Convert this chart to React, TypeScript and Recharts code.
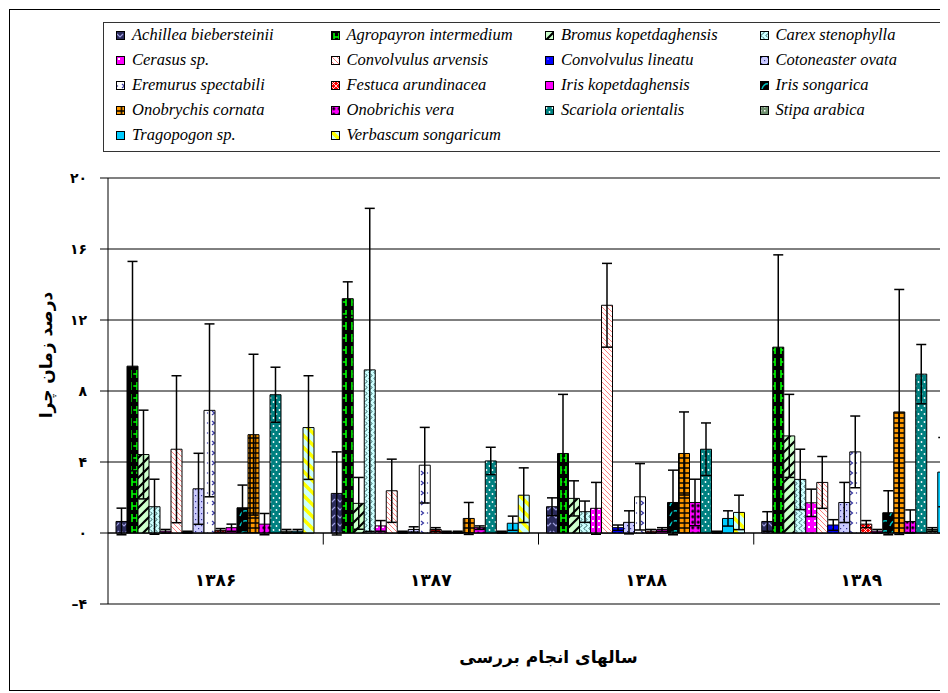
import React from 'react';
import { BarChart, Bar, XAxis, YAxis, CartesianGrid, ErrorBar, ReferenceLine, Legend } from 'recharts';

const years = ['۱۳۸۶', '۱۳۸۷', '۱۳۸۸', '۱۳۸۹'];

const species = [
  'Achillea biebersteinii', 'Agropayron intermedium', 'Bromus kopetdaghensis', 'Carex stenophylla',
  'Cerasus sp.', 'Convolvulus arvensis', 'Convolvulus lineatu', 'Cotoneaster ovata',
  'Eremurus spectabili', 'Festuca arundinacea', 'Iris kopetdaghensis', 'Iris songarica',
  'Onobrychis cornata', 'Onobrichis vera', 'Scariola orientalis', 'Stipa arabica',
  'Tragopogon sp.', 'Verbascum songaricum',
];

// mean values per species for 1386, 1387, 1388, 1389
const means = [
  [0.65, 2.23, 1.48, 0.65],
  [9.4, 13.2, 4.48, 10.47],
  [4.42, 1.67, 1.95, 5.47],
  [1.48, 9.19, 1.2, 3.02],
  [0.1, 0.4, 1.39, 1.7],
  [4.72, 2.38, 12.83, 2.85],
  [0.05, 0.05, 0.3, 0.45],
  [2.49, 0.2, 0.6, 1.72],
  [6.91, 3.82, 2.04, 4.57],
  [0.15, 0.2, 0.1, 0.5],
  [0.3, 0.05, 0.2, 0.1],
  [1.42, 0.05, 1.72, 1.14],
  [5.54, 0.82, 4.48, 6.82],
  [0.5, 0.3, 1.72, 0.65],
  [7.79, 4.06, 4.72, 8.95],
  [0.1, 0.05, 0.05, 0.2],
  [0.1, 0.55, 0.82, 3.43],
  [5.94, 2.13, 1.16, 4.16],
];

// standard errors per species
const errors = [
  [0.75, 2.34, 0.5, 0.55],
  [5.9, 0.95, 3.33, 5.2],
  [2.5, 1.46, 0.99, 2.34],
  [1.55, 9.1, 0.6, 1.7],
  [0.1, 0.3, 1.46, 0.77],
  [4.14, 1.78, 2.36, 1.46],
  [0.05, 0.05, 0.15, 0.3],
  [2.0, 0.15, 0.65, 1.13],
  [4.87, 2.13, 1.87, 2.02],
  [0.1, 0.1, 0.1, 0.2],
  [0.2, 0.05, 0.1, 0.1],
  [1.28, 0.05, 1.82, 1.24],
  [4.53, 0.9, 2.34, 6.9],
  [0.6, 0.1, 1.31, 0.65],
  [1.55, 0.77, 1.48, 1.67],
  [0.1, 0.05, 0.05, 0.1],
  [0.1, 0.4, 0.43, 1.95],
  [2.92, 1.54, 0.97, 2.09],
];

const yTicks = [-4, 0, 4, 8, 12, 16, 20];

const fills = species.map((_, i) => {
  if (i === 10) return '#ff00ff';
  if (i === 16) return '#00ccff';
  return `url(#pat${i})`;
});

const data = years.map((year, j) => {
  const row: any = { year };
  species.forEach((_, i) => {
    row['v' + i] = means[i][j];
    row['e' + i] = errors[i][j];
  });
  return row;
});

const toPersian = (n: number) => {
  const s = String(Math.abs(n)).replace(/\d/g, (d) => '۰۱۲۳۴۵۶۷۸۹'[+d]);
  return n < 0 ? '–' + s : s;
};

const persianFont = '"DejaVu Sans", sans-serif';

const Patterns = () => (
  <svg width={0} height={0} style={{ position: 'absolute', left: 0, top: 0 }}>
    <defs>
      <pattern id="pat0" width={8} height={8} patternUnits="userSpaceOnUse">
        <rect width={8} height={8} fill="#2b2b5c" />
        <path d="M1 3 L4 6 L7 3" stroke="#a0a0e0" strokeWidth={1.2} fill="none" />
      </pattern>
      <pattern id="pat1" width={11} height={12} patternUnits="userSpaceOnUse">
        <rect width={11} height={12} fill="#000" />
        <path d="M3 2 V10 M8 2 V10 M3 6 H8" stroke="#00ff00" strokeWidth={1.6} fill="none" />
      </pattern>
      <pattern id="pat2" width={10} height={10} patternUnits="userSpaceOnUse">
        <rect width={10} height={10} fill="#ccffcc" />
        <path d="M-2 2 L2 -2 M0 10 L10 0 M8 12 L12 8" stroke="#000" strokeWidth={2.2} />
      </pattern>
      <pattern id="pat3" width={5} height={6} patternUnits="userSpaceOnUse">
        <rect width={5} height={6} fill="#ccffff" />
        <path d="M2.5 0 C4.5 1 4.5 2 2.5 3 C0.5 4 0.5 5 2.5 6" stroke="#2f5f5f" strokeWidth={1} fill="none" />
      </pattern>
      <pattern id="pat4" width={6} height={6} patternUnits="userSpaceOnUse">
        <rect width={6} height={6} fill="#ff00ff" />
        <rect x={2} y={2} width={2} height={2} fill="#ffffff" />
      </pattern>
      <pattern id="pat5" width={5} height={5} patternUnits="userSpaceOnUse">
        <rect width={5} height={5} fill="#ffffff" />
        <path d="M0 0 L5 5 M-1 4 L1 6 M4 -1 L6 1" stroke="#ff8080" strokeWidth={1} />
      </pattern>
      <pattern id="pat6" width={6} height={6} patternUnits="userSpaceOnUse">
        <rect width={6} height={6} fill="#0000ff" />
        <circle cx={3} cy={3} r={0.6} fill="#ffffff" />
      </pattern>
      <pattern id="pat7" width={6} height={6} patternUnits="userSpaceOnUse">
        <rect width={6} height={6} fill="#ccccff" />
        <rect x={1} y={1} width={1.2} height={1.2} fill="#333399" />
        <rect x={4} y={4} width={1.2} height={1.2} fill="#333399" />
      </pattern>
      <pattern id="pat8" width={11} height={10} patternUnits="userSpaceOnUse">
        <rect width={11} height={10} fill="#ffffff" />
        <path d="M6 3 L8.5 5 L6 7" stroke="#3333a0" strokeWidth={1.2} fill="none" />
        <circle cx={1.5} cy={5} r={0.7} fill="#3333a0" />
      </pattern>
      <pattern id="pat9" width={5} height={5} patternUnits="userSpaceOnUse">
        <rect width={5} height={5} fill="#ff0000" />
        <path d="M0 0 L5 5 M5 0 L0 5" stroke="#ffffff" strokeWidth={0.8} />
      </pattern>
      <pattern id="pat11" width={10} height={10} patternUnits="userSpaceOnUse">
        <rect width={10} height={10} fill="#000" />
        <path d="M2 8 Q4 2 9 3" stroke="#00c0c0" strokeWidth={1.5} fill="none" />
      </pattern>
      <pattern id="pat12" width={5.5} height={5} patternUnits="userSpaceOnUse">
        <rect width={5.5} height={5} fill="#000" />
        <rect x={0.75} y={0.75} width={4} height={3.5} fill="#ff9900" />
      </pattern>
      <pattern id="pat13" width={5.5} height={5.5} patternUnits="userSpaceOnUse">
        <rect width={5.5} height={5.5} fill="#ff00ff" />
        <circle cx={2.75} cy={2.75} r={1.5} fill="#000" />
      </pattern>
      <pattern id="pat14" width={6} height={8} patternUnits="userSpaceOnUse">
        <rect width={6} height={8} fill="#008080" />
        <circle cx={1.5} cy={2} r={0.9} fill="#ffffff" />
        <circle cx={4.5} cy={6} r={0.9} fill="#ffffff" />
      </pattern>
      <pattern id="pat15" width={4} height={4} patternUnits="userSpaceOnUse">
        <rect width={4} height={4} fill="#6f906f" />
        <rect x={0} y={0} width={1.5} height={1.5} fill="#ffffff" />
      </pattern>
      <pattern id="pat17" width={12} height={12} patternUnits="userSpaceOnUse">
        <rect width={12} height={12} fill="#ccffff" />
        <path d="M0 0 L12 12 M-6 6 L6 18 M6 -6 L18 6" stroke="#ffff00" strokeWidth={3.5} />
      </pattern>
    </defs>
  </svg>
);

const renderLegend = () => (
  <div
    style={{
      width: 900,
      height: 130,
      boxSizing: 'border-box',
      border: '1px solid #333',
      background: '#fff',
      position: 'relative',
    }}
  >
    {species.map((s, i) => {
      const col = i % 4;
      const row = Math.floor(i / 4);
      return (
        <div
          key={s}
          style={{
            position: 'absolute',
            left: 12 + col * 214.5,
            top: 2 + row * 25,
            height: 20,
            display: 'flex',
            alignItems: 'center',
          }}
        >
          <svg width={9} height={9} style={{ marginRight: 7 }}>
            <rect x={0.5} y={0.5} width={8} height={8} fill={fills[i]} stroke="#000" />
          </svg>
          <span
            style={{
              fontFamily: '"Liberation Serif", "Times New Roman", serif',
              fontStyle: 'italic',
              fontSize: 16.5,
              whiteSpace: 'nowrap',
              color: '#000',
            }}
          >
            {s}
          </span>
        </div>
      );
    })}
  </div>
);

const XTick = (props: any) => {
  const { x, y, payload } = props;
  return (
    <text x={x} y={y - 18} textAnchor="middle" fontFamily={persianFont} fontWeight="bold" fontSize={17} fill="#000">
      {payload.value}
    </text>
  );
};

const YTick = (props: any) => {
  const { x, y, payload } = props;
  return (
    <text x={x} y={y + 5} textAnchor="end" fontFamily={persianFont} fontWeight="bold" fontSize={14} fill="#000">
      {toPersian(payload.value)}
    </text>
  );
};

const renderXLabel = (props: any) => {
  const vb = props.viewBox || { x: 100, y: 596, width: 859, height: 89 };
  return (
    <text
      x={vb.x + vb.width / 2 + 10}
      y={vb.y + 59}
      textAnchor="middle"
      fontFamily={persianFont}
      fontWeight="bold"
      fontSize={17}
      fill="#000"
    >
      سالهای انجام بررسی
    </text>
  );
};

const renderYLabel = () => (
  <text
    x={38}
    y={347}
    transform="rotate(-90 38 347)"
    textAnchor="middle"
    dominantBaseline="central"
    fontFamily={persianFont}
    fontWeight="bold"
    fontSize={17}
    fill="#000"
  >
    درصد زمان چرا
  </text>
);

export default function App() {
  return (
    <div style={{ position: 'relative', width: 940, height: 685, overflow: 'hidden', background: '#fff' }}>
      <Patterns />
      <div
        style={{
          position: 'absolute',
          left: 1,
          top: 1,
          width: 1000,
          height: 682,
          border: '1px solid #000',
          boxSizing: 'border-box',
        }}
      />
      <div style={{ position: 'absolute', left: 0, top: 0 }}>
        <BarChart
          width={1002}
          height={685}
          data={data}
          margin={{ top: 40, right: 41, bottom: 0, left: 0 }}
          barCategoryGap={8}
          barGap={0}
        >
          <CartesianGrid horizontal vertical={false} stroke="#000" strokeWidth={1} />
          <XAxis
            dataKey="year"
            axisLine={false}
            tickLine={false}
            tickSize={0}
            tickMargin={0}
            height={89}
            tick={<XTick />}
            interval={0}
            label={renderXLabel}
          />
          <YAxis
            domain={[-4, 20]}
            ticks={yTicks}
            interval={0}
            width={100}
            tickSize={8}
            tickMargin={13}
            axisLine={{ stroke: '#000', strokeWidth: 1 }}
            tickLine={{ stroke: '#000' }}
            tick={<YTick />}
            label={renderYLabel}
            allowDataOverflow
          />
          <Legend
            verticalAlign="top"
            align="left"
            content={renderLegend}
            wrapperStyle={{ position: 'absolute', top: 14, left: 95, width: 900, height: 130 }}
          />
          <ReferenceLine y={20} stroke="#808080" strokeWidth={2} />
          <ReferenceLine y={-4} stroke="#808080" strokeWidth={2} />
          {species.map((s, i) => (
            <Bar
              key={s}
              dataKey={'v' + i}
              name={s}
              fill={fills[i]}
              stroke="#000"
              strokeWidth={1}
              isAnimationActive={false}
            >
              <ErrorBar dataKey={'e' + i} width={5} stroke="#000" strokeWidth={1.5} direction="y" />
            </Bar>
          ))}
          <ReferenceLine y={0} stroke="#000" strokeWidth={1} />
          {years.slice(1).map((yr) => (
            <ReferenceLine
              key={'t' + yr}
              segment={[{ x: yr, y: 0 }, { x: yr, y: -0.65 }]}
              position="start"
              stroke="#000"
              strokeWidth={1}
            />
          ))}
        </BarChart>
      </div>
    </div>
  );
}
